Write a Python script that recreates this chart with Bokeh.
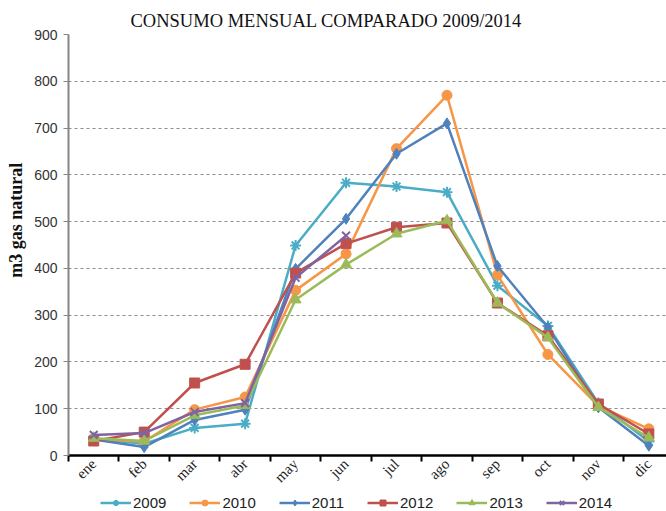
import math
from bokeh.plotting import figure
from bokeh.layouts import column
from bokeh.models import Range1d, FixedTicker, Legend, LegendItem
from bokeh.embed import file_html
from bokeh.resources import INLINE

months = ["ene", "feb", "mar", "abr", "may", "jun", "jul", "ago", "sep", "oct", "nov", "dic"]
years = ["2009", "2010", "2011", "2012", "2013", "2014"]
nan = float("nan")
v2009 = [36, 25, 59, 68, 449, 583, 575, 563, 363, 277, 112, 30]
v2010 = [35, 30, 98, 125, 353, 431, 656, 770, 386, 216, 106, 57]
v2011 = [34, 18, 76, 98, 399, 506, 645, 710, 405, 274, 103, 21]
v2012 = [31, 50, 155, 195, 390, 453, 488, 497, 326, 256, 110, 46]
v2013 = [37, 31, 86, 107, 333, 408, 474, 502, 326, 252, 103, 38]
v2014 = [44, 48, 93, 112, 380, 470, nan, nan, nan, nan, nan, nan]
y_ticks = [0, 100, 200, 300, 400, 500, 600, 700, 800, 900]

series = [v2009, v2010, v2011, v2012, v2013, v2014]
colors = ["#4BACC6", "#F79646", "#4F81BD", "#C0504D", "#9BBB59", "#8064A2"]
markers = ["asterisk", "circle", "diamond", "square", "triangle", "x"]
msizes = [11, 10, 11, 10, 11, 11]

xs = [i + 0.5 for i in range(len(months))]

p = figure(width=666, height=494, output_backend="svg", toolbar_location=None,
           x_range=Range1d(0, 11.85), y_range=Range1d(0, 900),
           min_border_left=68, min_border_right=0, min_border_top=34, min_border_bottom=38)
p.outline_line_color = None
p.background_fill_color = "white"
p.border_fill_color = "white"

p.title.text = "CONSUMO MENSUAL COMPARADO  2009/2014"
p.title.align = "left"
p.title.offset = 62
p.title.text_font = "Liberation Serif"
p.title.text_font_size = "18.5px"
p.title.text_font_style = "normal"
p.title.text_color = "#111111"
p.title.standoff = 8

leg = figure(width=666, height=17, output_backend="svg", toolbar_location=None,
             x_range=Range1d(0, 1), y_range=Range1d(0, 1),
             x_axis_location=None, y_axis_location=None,
             min_border_left=0, min_border_right=0, min_border_top=0, min_border_bottom=0)
leg.outline_line_color = None
leg.xgrid.grid_line_color = None
leg.ygrid.grid_line_color = None
leg.border_fill_color = "white"

items = []
for name, vals, c, m, s in zip(years, series, colors, markers, msizes):
    lw = 2 if m in ("asterisk", "x") else 1
    p.line(xs, vals, line_color=c, line_width=2.5)
    p.scatter(xs, vals, marker=m, size=s, fill_color=c, line_color=c, line_width=lw)
    # legend-only renderers (a single empty point, nothing is drawn in the frame)
    r1 = leg.line([nan], [nan], line_color=c, line_width=2.5)
    r2 = leg.scatter([nan], [nan], marker=m, size=s, fill_color=c, line_color=c, line_width=lw)
    items.append(LegendItem(label=name, renderers=[r1, r2]))

# x axis
xa = p.xaxis[0]
xa.ticker = FixedTicker(ticks=xs, minor_ticks=list(range(0, 13)))
xa.major_label_overrides = {x: m for x, m in zip(xs, months)}
xa.major_label_orientation = math.pi / 4
xa.major_tick_line_color = None
xa.major_tick_out = 0
xa.major_tick_in = 0
xa.minor_tick_line_color = "black"
xa.minor_tick_line_width = 2
xa.minor_tick_out = 6
xa.minor_tick_in = 0
xa.axis_line_color = "black"
xa.axis_line_width = 2.5
xa.major_label_text_font = "Liberation Serif"
xa.major_label_text_font_size = "15px"
xa.major_label_text_color = "#222222"
xa.major_label_standoff = 0

# y axis
ya = p.yaxis[0]
ya.ticker = FixedTicker(ticks=y_ticks)
ya.minor_tick_line_color = None
ya.axis_line_color = "#868686"
ya.axis_line_width = 2
ya.major_tick_line_color = "#868686"
ya.major_tick_out = 5
ya.major_tick_in = 0
ya.major_label_text_font = "Liberation Sans"
ya.major_label_text_font_size = "14px"
ya.major_label_text_color = "#333333"
ya.major_label_standoff = 6
ya.axis_label = "\u00a0" * 11 + "m3 gas natural"
ya.axis_label_text_font = "Liberation Serif"
ya.axis_label_text_font_size = "18px"
ya.axis_label_text_font_style = "bold"
ya.axis_label_text_color = "#111111"
ya.axis_label_standoff = 5

p.xgrid.grid_line_color = None
p.ygrid.ticker = FixedTicker(ticks=y_ticks)
p.ygrid.grid_line_color = "#8c8c8c"
p.ygrid.grid_line_dash = "3 3"
p.ygrid.grid_line_width = 1

legend = Legend(items=items, orientation="horizontal", location=(32, 0),
                glyph_width=31, glyph_height=15, label_standoff=2, spacing=23,
                padding=0, margin=0, border_line_color=None, background_fill_alpha=0,
                label_text_font="Liberation Sans", label_text_font_size="15px",
                label_text_color="#222222", label_height=14)
leg.add_layout(legend, "center")

layout = column(p, leg, spacing=0)
open("out.html", "w").write(file_html(layout, INLINE))
